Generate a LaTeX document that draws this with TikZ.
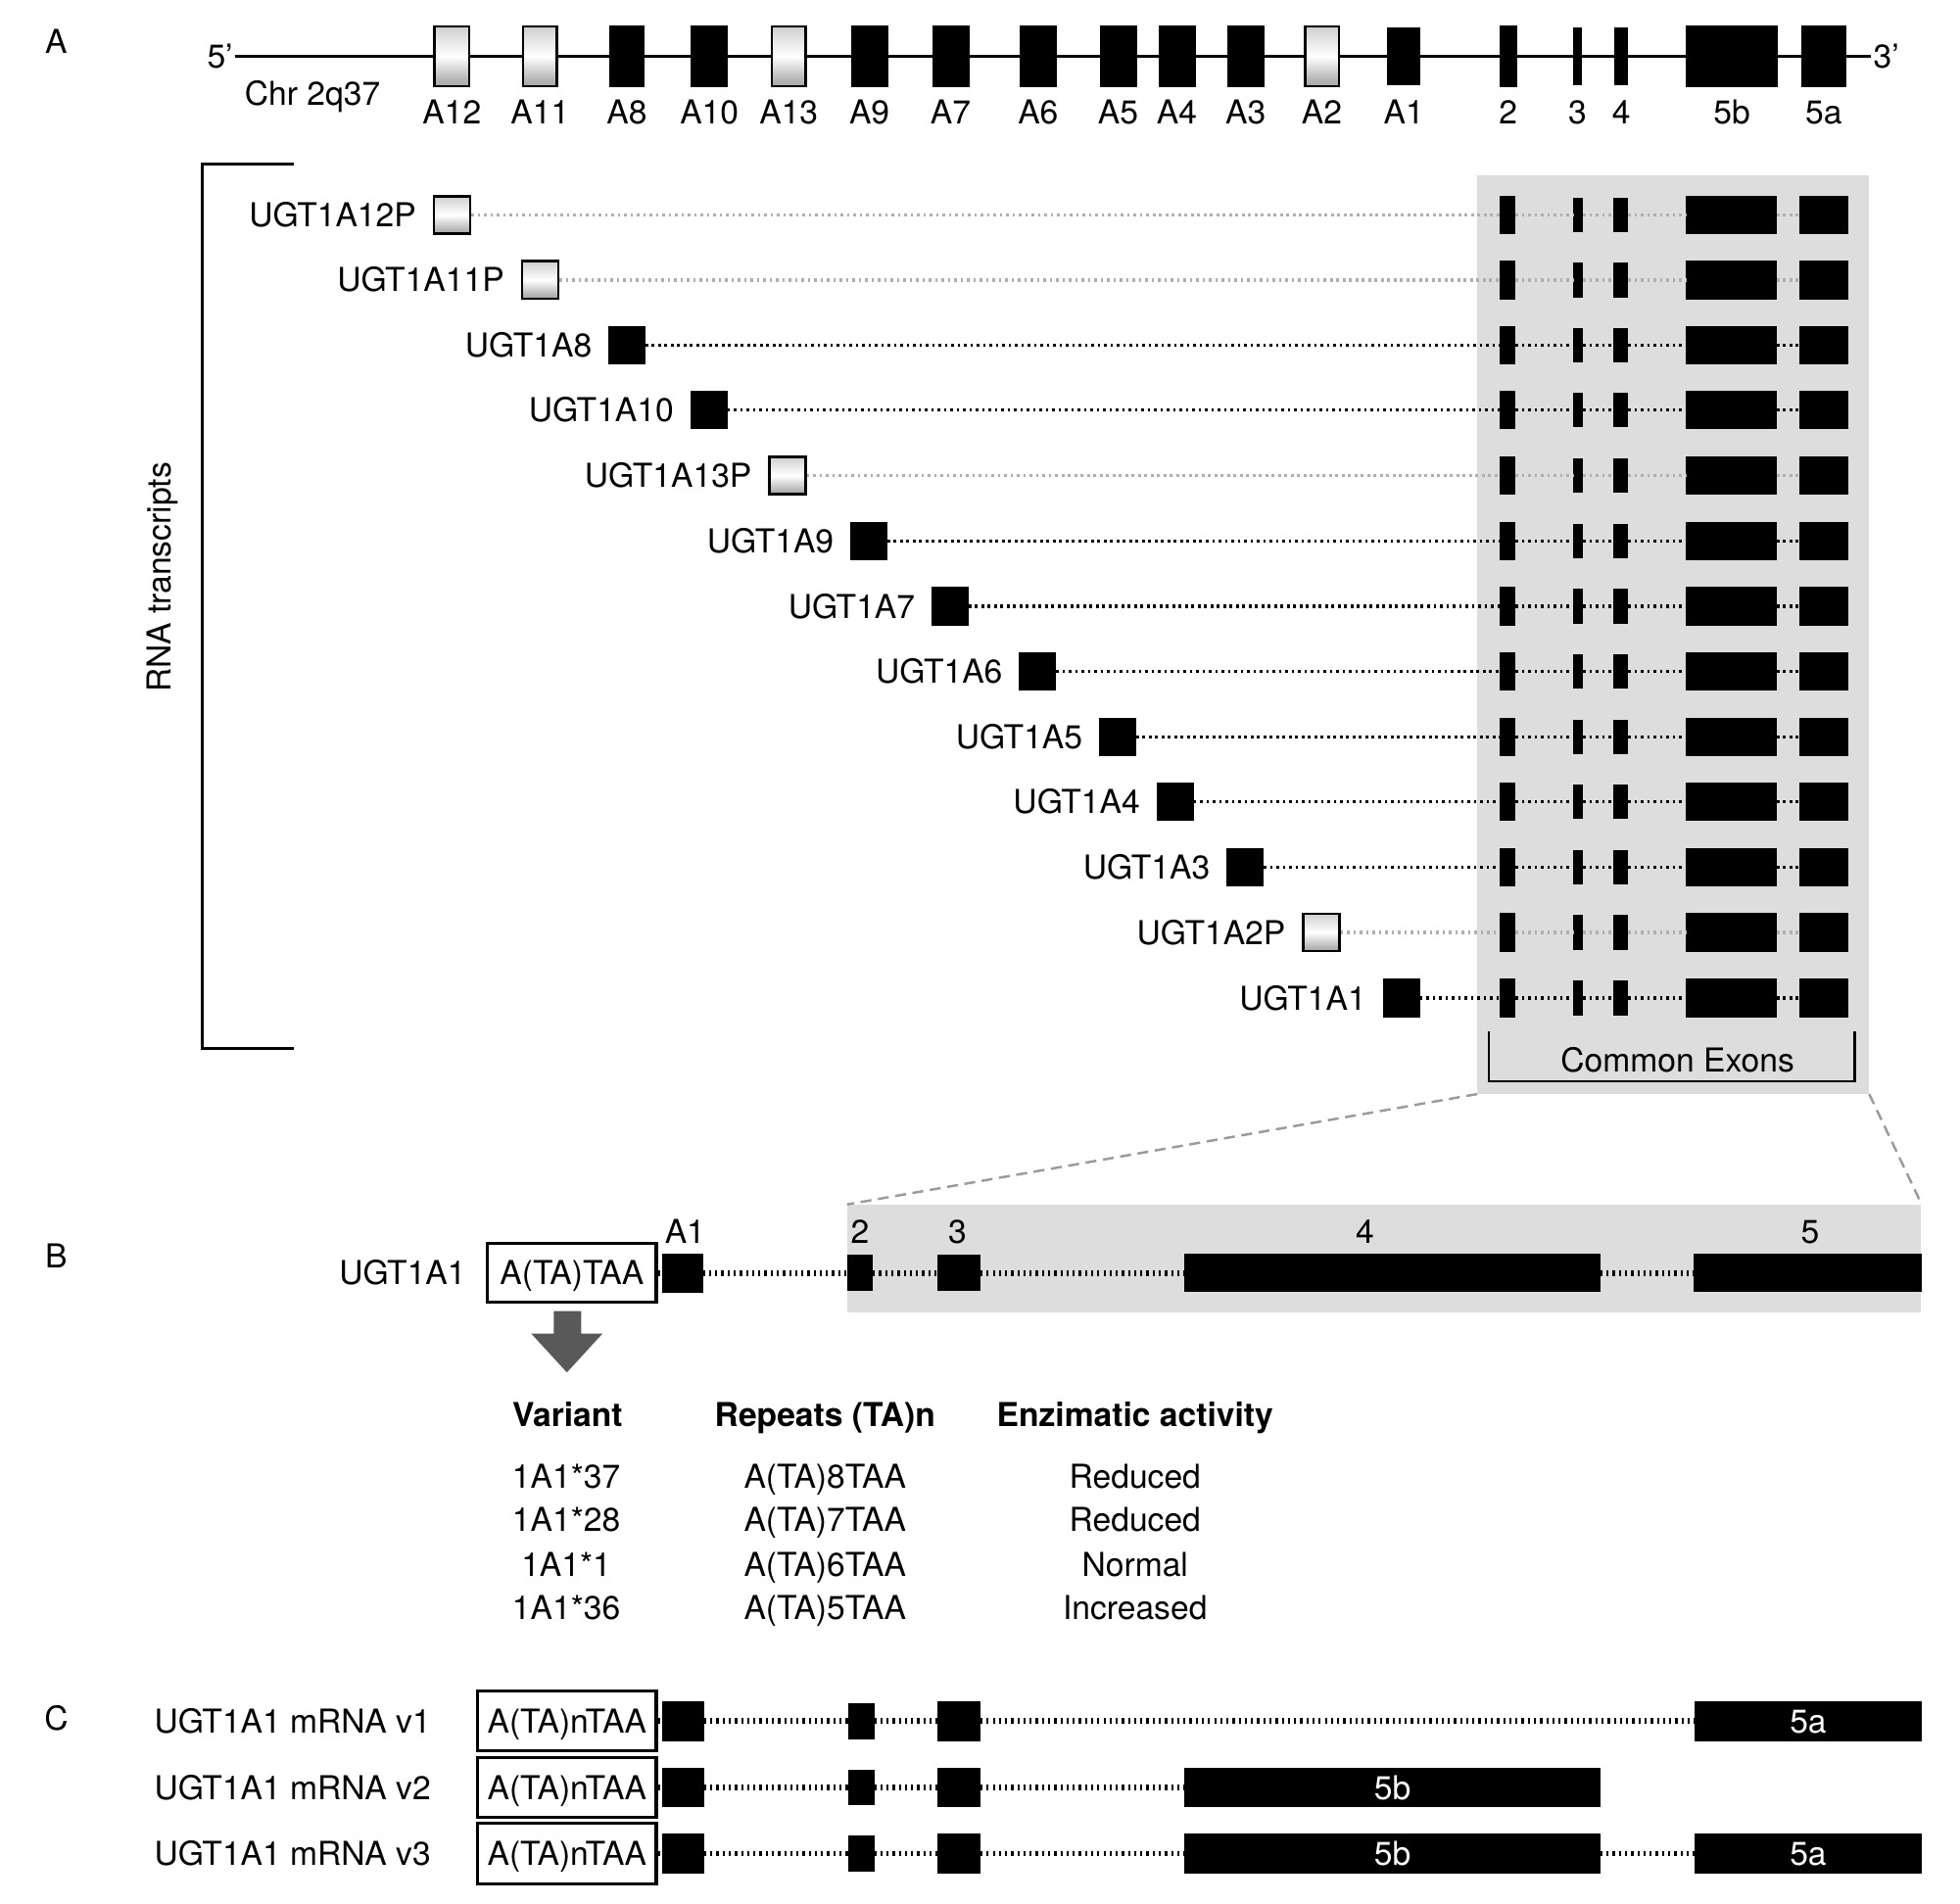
\documentclass[tikz,border=0pt]{standalone}
\usepackage{fontspec}
\setmainfont{TeX Gyre Heros}
\usetikzlibrary{positioning}
\definecolor{boxgrey}{RGB}{221,221,221}
\definecolor{arrowgrey}{RGB}{89,89,89}
\definecolor{zoomgrey}{RGB}{155,155,155}
\definecolor{pseudogrey}{RGB}{175,175,175}
\pgfdeclareverticalshading{pseudoshade}{100bp}{color(0bp)=(black!55); color(30bp)=(black!30);
  color(50bp)=(white); color(70bp)=(black!15); color(100bp)=(black!40)}

\begin{document}
\begin{tikzpicture}[x=0.02cm, y=-0.02cm, font=\fontsize{15}{17}\selectfont,
    every node/.style={text height=10.8pt, text depth=0pt},
    exbox/.style 2 args={inner sep=0pt, minimum width=#1*0.02cm, minimum height=#2*0.02cm},
    exon/.style={fill=black, draw=black, line width=0.4pt},
    pseudo/.style={draw=black, line width=1.1pt, shading=pseudoshade},
    intronexon/.style={draw=black, line width=1.5pt, dash pattern=on 1.2pt off 1.7pt},
    intronpseudo/.style={intronexon, draw=pseudogrey},
    introntall/.style={draw=black, line width=2.6pt, dash pattern=on 1pt off 1.8pt},
    promoter/.style={draw=black, line width=1.4pt, fill=white},
    greybox/.style={fill=boxgrey, draw=none, inner sep=0pt},
    zoomline/.style={draw=zoomgrey, line width=1.1pt, dash pattern=on 5pt off 3pt},
    head/.style={font=\fontsize{15}{17}\selectfont\bfseries}]

  \fill[white] (0,0) rectangle (1568,1523);

  % panel A: the locus
  \node (lbA) at (45,33) {A};
  \node[inner sep=1pt] (p5) at (176,45) {5’};
  \node[inner sep=1pt] (p3) at (1509,45) {3’};
  \draw[line width=1.15pt] (p5) -- (p3);
  \node (chr) at (250,75) {Chr 2q37};

  \foreach \lab/\cx/\w/\h/\k in {A12/361.5/28/48/pseudo, A11/432/27/48/pseudo,
      A8/501.5/28/48/exon, A10/567.5/29/48/exon, A13/631/27/48/pseudo,
      A9/695.5/29/48/exon, A7/760.5/29/48/exon, A6/830.5/29/48/exon,
      A5/894.5/29/48/exon, A4/941.5/29/48/exon, A3/996.5/29/48/exon,
      A2/1057.5/27/48/pseudo, A1/1123/26/46/exon, 2/1206.5/13/48/exon,
      3/1262/6/45/exon, 4/1297/10/45/exon, 5b/1385.5/73/48/exon, 5a/1459/36/48/exon}{
    \node[exbox={\w}{\h}, \k] (g\lab) at (\cx,45) {};
    \node (t\lab) at (\cx,90) {\lab};
  }

  % transcripts
  \draw[line width=1.3pt] (235,131) -- (162,131) -- (162,839) -- (235,839);
  \node[rotate=90] (rnaT) at (127,462) {RNA transcripts};

  \node[greybox, exbox={313}{735}] (common) at (1338.5,507.5) {};

  \foreach \lab/\cx/\ry/\k in {UGT1A12P/361.5/172/pseudo, UGT1A11P/432/224/pseudo,
      UGT1A8/501.5/276/exon, UGT1A10/567/328/exon, UGT1A13P/630/380.5/pseudo,
      UGT1A9/695/433/exon, UGT1A7/760/485/exon, UGT1A6/830/537/exon,
      UGT1A5/894/589.5/exon, UGT1A4/940/641.5/exon, UGT1A3/996/694/exon,
      UGT1A2P/1057/746/pseudo, UGT1A1/1121/798.5/exon}{
    \node[exbox={29}{30}, \k] (f\lab) at (\cx,\ry) {};
    \node[left=0.14cm of f\lab] (n\lab) {\lab};
    \node[exbox={12}{30}, exon] (e2\lab) at (1206,\ry) {};
    \node[exbox={7}{27}, exon] (e3\lab) at (1262.5,\ry) {};
    \node[exbox={11}{27}, exon] (e4\lab) at (1296.5,\ry) {};
    \node[exbox={72}{30}, exon] (e5b\lab) at (1385,\ry) {};
    \node[exbox={38}{30}, exon] (e5a\lab) at (1459,\ry) {};
    \draw[intron\k] (f\lab) -- (e2\lab) -- (e3\lab) -- (e4\lab) -- (e5b\lab) -- (e5a\lab);
  }

  \draw[line width=1.2pt] (1191,825) -- (1191,865) -- (1484,865) -- (1484,825);
  \node (cexons) at (1342,848) {Common Exons};

  % panel B: UGT1A1
  \node[greybox, exbox={859}{86}] (zoomB) at (1107.5,1007) {};
  \draw[zoomline] (common.south west) -- (zoomB.north west);
  \draw[zoomline] (common.south east) -- (zoomB.north east);

  \node (lbB) at (45,1005) {B};
  \node (ugtB) at (322,1018.5) {UGT1A1};
  \node[promoter, exbox={135}{47}] (promB) at (457.5,1018.5) {A(TA)TAA};
  \node[exbox={32}{31}, exon] (bA1) at (546,1018.5) {};
  \node[exbox={20}{28}, exon] (b2) at (688,1018.5) {};
  \node[exbox={34}{28}, exon] (b3) at (767,1018.5) {};
  \node[exbox={332}{30}, exon] (b4) at (1114,1018.5) {};
  \node[exbox={182}{30}, exon] (b5) at (1446,1018.5) {};
  \draw[introntall] (promB) -- (bA1) -- (b2) -- (b3) -- (b4) -- (b5);

  \node (lbA1) at (548,985) {A1};
  \node (lb2) at (688,985) {2};
  \node (lb3) at (766,985) {3};
  \node (lb4) at (1092,985) {4};
  \node (lb5) at (1448,985) {5};

  \fill[arrowgrey] (443,1049) -- (465,1049) -- (465,1067) -- (482,1067)
    -- (453.5,1098) -- (425,1067) -- (443,1067) -- cycle;

  \node[head] (hVar) at (454,1132) {Variant};
  \node[head] (hRep) at (660,1132) {Repeats (TA)n};
  \node[head] (hAct) at (908,1132) {Enzimatic activity};
  \foreach \var/\rep/\act/\ry [count=\i] in {1A1*37/A(TA)8TAA/Reduced/1181,
      1A1*28/A(TA)7TAA/Reduced/1216, 1A1*1/A(TA)6TAA/Normal/1252,
      1A1*36/A(TA)5TAA/Increased/1286}{
    \node (var\i) at (453,\ry) {\var};
    \node (rep\i) at (660,\ry) {\rep};
    \node (act\i) at (908,\ry) {\act};
  }

  % panel C: mRNA variants
  \node (lbC) at (45,1375) {C};
  \foreach \v/\ry in {1/1377, 2/1430, 3/1483}{
    \node (cl\v) at (234,\ry) {UGT1A1 mRNA v\v};
    \node[promoter, exbox={143}{48}] (cp\v) at (453.5,\ry) {A(TA)nTAA};
    \node[exbox={33}{31}, exon] (c1\v) at (546.5,\ry) {};
    \node[exbox={20}{28}, exon] (c2\v) at (689,\ry) {};
    \node[exbox={34}{31}, exon] (c3\v) at (767,\ry) {};
    \draw[introntall] (cp\v) -- (c1\v) -- (c2\v) -- (c3\v);
  }
  \node[exbox={181}{31}, exon, text=white] (c5a1) at (1446.5,1377) {5a};
  \node[exbox={332}{31}, exon, text=white] (c5b2) at (1114,1430) {5b};
  \node[exbox={332}{31}, exon, text=white] (c5b3) at (1114,1483) {5b};
  \node[exbox={181}{31}, exon, text=white] (c5a3) at (1446.5,1483) {5a};
  \draw[introntall] (c31) -- (c5a1);
  \draw[introntall] (c32) -- (c5b2);
  \draw[introntall] (c33) -- (c5b3) -- (c5a3);
\end{tikzpicture}
\end{document}
